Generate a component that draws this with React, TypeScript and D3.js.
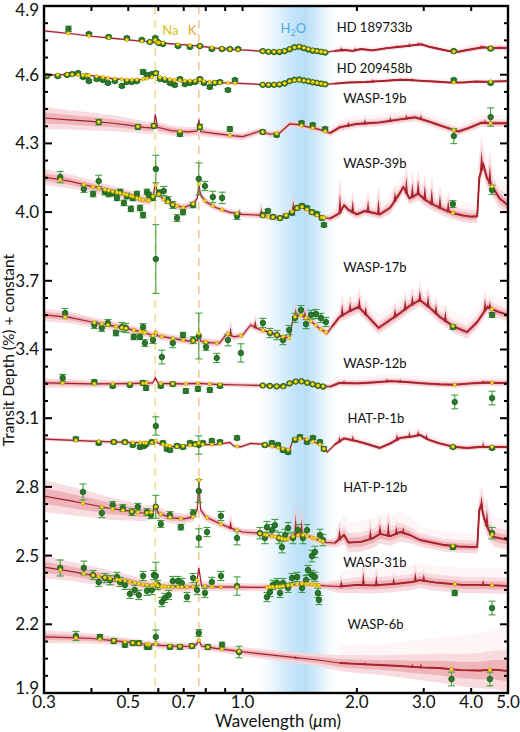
import React from "react";
import * as d3 from "d3";

// ---- axes ----
const yTickLabels = [1.9, 2.2, 2.5, 2.8, 3.1, 3.4, 3.7, 4.0, 4.3, 4.6, 4.9];
const xTickValues = [0.3, 0.4, 0.5, 0.6, 0.7, 0.8, 0.9, 1.0, 2.0, 3.0, 4.0, 5.0];
const xTickLabels = ["0.3", "0.5", "0.7", "1.0", "2.0", "3.0", "4.0", "5.0"];
const naLine = 0.589;
const kLine = 0.767;
const waterBand = [1.05, 1.8];
const irStart = 1.68;

// model rows: [wavelength um, depth %, 1 sigma]
// data rows: [wavelength um, depth %, error]
// spike rows: [wavelength um, peak depth %]
const hd189733Model = [[0.30,4.791,.004],[0.35,4.780,.004],[0.40,4.768,.004],[0.45,4.760,.004],[0.50,4.752,.004],[0.55,4.745,.004],[0.585,4.742,.004],[0.589,4.752,.004],[0.595,4.741,.004],[0.65,4.735,.004],[0.72,4.729,.004],[0.762,4.726,.004],[0.767,4.733,.004],[0.772,4.725,.004],[0.85,4.716,.004],[0.95,4.710,.004],[1.05,4.706,.004],[1.12,4.703,.004],[1.2,4.700,.004],[1.28,4.702,.004],[1.34,4.714,.004],[1.40,4.724,.004],[1.46,4.716,.004],[1.55,4.705,.004],[1.65,4.698,.004],[1.75,4.704,.006],[1.85,4.708,.006],[1.95,4.704,.006],[2.05,4.712,.006],[2.2,4.706,.006],[2.4,4.716,.006],[2.6,4.722,.006],[2.8,4.728,.006],[2.95,4.733,.006],[3.1,4.722,.006],[3.3,4.712,.006],[3.5,4.703,.006],[3.7,4.700,.006],[3.9,4.708,.008],[4.1,4.714,.008],[4.3,4.720,.008],[4.5,4.716,.008],[4.75,4.718,.008],[5.0,4.716,.008]];
const hd189733Data = [[0.348,4.800,.012],[0.394,4.778,.006],[0.444,4.765,.005],[0.496,4.760,.005],[0.543,4.752,.005],[0.570,4.743,.005],[0.589,4.760,.006],[0.596,4.745,.005],[0.602,4.738,.005],[0.617,4.734,.005],[0.676,4.725,.005],[0.727,4.721,.005],[0.772,4.725,.005],[0.830,4.712,.005],[0.883,4.712,.005],[0.926,4.712,.005],[0.973,4.712,.005],[1.13,4.703,.004],[1.17,4.700,.004],[1.21,4.699,.004],[1.25,4.699,.004],[1.29,4.703,.004],[1.33,4.711,.004],[1.37,4.720,.004],[1.41,4.722,.004],[1.45,4.716,.004],[1.49,4.710,.004],[1.53,4.705,.004],[1.57,4.703,.004],[1.61,4.700,.004],[1.65,4.697,.004],[3.6,4.703,.006],[4.5,4.714,.006]];
const hd189733Spikes = [[1.82,4.720],[1.98,4.718],[2.55,4.730],[2.75,4.738],[2.9,4.742],[4.25,4.730]];

const hd209458Model = [[0.30,4.597,.004],[0.35,4.601,.004],[0.40,4.596,.004],[0.45,4.584,.004],[0.50,4.577,.004],[0.55,4.580,.004],[0.58,4.590,.004],[0.589,4.610,.004],[0.60,4.590,.004],[0.65,4.578,.004],[0.72,4.573,.004],[0.762,4.574,.004],[0.767,4.588,.004],[0.775,4.573,.004],[0.85,4.566,.004],[0.95,4.563,.004],[1.05,4.560,.004],[1.12,4.557,.004],[1.2,4.556,.004],[1.28,4.560,.004],[1.34,4.574,.004],[1.40,4.578,.004],[1.46,4.574,.004],[1.55,4.566,.004],[1.65,4.558,.004],[1.75,4.561,.005],[1.9,4.566,.005],[2.1,4.568,.005],[2.3,4.572,.005],[2.5,4.576,.005],[2.7,4.578,.005],[2.9,4.574,.005],[3.2,4.570,.005],[3.5,4.566,.005],[3.8,4.566,.005],[4.1,4.570,.005],[4.4,4.569,.005],[4.7,4.571,.005],[5.0,4.572,.005]];
const hd209458Data = [[0.305,4.594,.006],[0.326,4.594,.006],[0.345,4.599,.006],[0.356,4.603,.006],[0.369,4.607,.006],[0.380,4.590,.006],[0.389,4.594,.006],[0.394,4.572,.006],[0.413,4.581,.006],[0.429,4.577,.006],[0.442,4.564,.006],[0.461,4.572,.006],[0.481,4.551,.006],[0.496,4.568,.006],[0.511,4.568,.006],[0.527,4.572,.006],[0.547,4.612,.01],[0.560,4.599,.006],[0.577,4.603,.006],[0.591,4.607,.006],[0.606,4.581,.006],[0.624,4.577,.006],[0.644,4.564,.006],[0.663,4.555,.006],[0.684,4.581,.006],[0.705,4.559,.006],[0.727,4.564,.006],[0.750,4.568,.006],[0.772,4.581,.006],[0.791,4.564,.006],[0.820,4.546,.006],[0.845,4.564,.006],[0.872,4.568,.006],[0.915,4.533,.006],[0.955,4.577,.006],[1.13,4.556,.003],[1.17,4.555,.003],[1.21,4.556,.003],[1.25,4.557,.003],[1.29,4.562,.003],[1.33,4.572,.003],[1.37,4.578,.003],[1.41,4.579,.003],[1.45,4.575,.003],[1.49,4.571,.003],[1.53,4.567,.003],[1.57,4.564,.003],[1.61,4.561,.003],[1.65,4.558,.003],[3.6,4.577,.006],[4.5,4.564,.006]];
const hd209458Spikes = [[2.2,4.580],[2.6,4.586],[2.8,4.584]];

const wasp19Model = [[0.30,4.411,.035],[0.35,4.403,.03],[0.40,4.396,.028],[0.45,4.389,.025],[0.50,4.380,.022],[0.55,4.370,.02],[0.583,4.367,.018],[0.589,4.426,.018],[0.597,4.370,.018],[0.65,4.356,.016],[0.72,4.350,.015],[0.76,4.354,.015],[0.767,4.404,.015],[0.775,4.352,.015],[0.85,4.343,.013],[0.95,4.333,.012],[1.0,4.330,.012],[1.05,4.340,.012],[1.11,4.354,.01],[1.18,4.340,.01],[1.25,4.345,.01],[1.33,4.385,.01],[1.40,4.382,.01],[1.5,4.370,.01],[1.6,4.360,.01],[1.7,4.345,.01],[1.8,4.370,.012],[2.0,4.385,.012],[2.3,4.392,.012],[2.6,4.405,.012],[2.85,4.414,.012],[3.1,4.395,.012],[3.4,4.372,.012],[3.7,4.352,.012],[3.95,4.368,.012],[4.25,4.390,.012],[4.6,4.388,.012],[5.0,4.388,.012]];
const wasp19Data = [[0.418,4.393,.012],[0.530,4.372,.01],[0.584,4.376,.01],[0.684,4.341,.01],[0.772,4.372,.012],[0.926,4.363,.01],[1.13,4.350,.008],[1.23,4.337,.008],[1.43,4.389,.008],[1.53,4.380,.008],[1.65,4.363,.008],[3.6,4.332,.033],[4.5,4.415,.04]];
const wasp19Spikes = [[1.9,4.395],[2.1,4.405],[2.45,4.415],[2.7,4.425],[2.95,4.425],[4.35,4.405]];

const wasp39Model = [[0.30,4.153,.025],[0.35,4.135,.022],[0.40,4.112,.02],[0.45,4.092,.018],[0.50,4.075,.016],[0.54,4.055,.015],[0.57,4.050,.014],[0.582,4.070,.014],[0.589,4.127,.014],[0.597,4.085,.014],[0.62,4.055,.012],[0.66,4.030,.012],[0.70,4.020,.012],[0.74,4.035,.012],[0.760,4.060,.012],[0.767,4.123,.012],[0.775,4.075,.012],[0.80,4.045,.012],[0.85,4.020,.01],[0.92,4.000,.01],[1.0,3.990,.01],[1.1,3.987,.01],[1.2,3.978,.01],[1.26,3.974,.01],[1.33,3.995,.01],[1.42,4.027,.01],[1.5,4.005,.01],[1.6,3.978,.01],[1.7,3.972,.012],[1.8,3.995,.015],[1.85,4.030,.015],[1.9,4.010,.015],[2.0,3.990,.015],[2.1,4.005,.015],[2.3,3.990,.015],[2.45,4.020,.02],[2.6,4.085,.02],[2.65,4.110,.02],[2.75,4.060,.02],[2.9,4.080,.02],[3.05,4.050,.02],[3.2,4.030,.02],[3.4,4.010,.02],[3.6,3.995,.02],[3.8,3.985,.02],[4.0,3.980,.02],[4.15,3.982,.02],[4.2,4.150,.03],[4.3,4.210,.03],[4.4,4.150,.03],[4.55,4.110,.03],[4.75,4.060,.03],[5.0,4.030,.03]];
const wasp39Data = [[0.331,4.153,.025],[0.382,4.101,.015],[0.404,4.079,.012],[0.418,4.136,.025],[0.434,4.088,.013],[0.444,4.079,.012],[0.455,4.083,.012],[0.467,4.062,.012],[0.476,4.088,.012],[0.487,4.040,.012],[0.496,4.070,.012],[0.508,4.014,.012],[0.514,4.062,.012],[0.527,4.079,.012],[0.537,4.018,.012],[0.547,3.987,.012],[0.560,4.088,.012],[0.567,4.075,.012],[0.581,4.062,.012],[0.591,4.188,.06],[0.602,4.083,.015],[0.620,4.092,.02],[0.636,4.053,.015],[0.655,4.031,.015],[0.672,3.974,.015],[0.697,4.000,.012],[0.741,4.031,.012],[0.767,4.145,.07],[0.796,4.114,.02],[0.835,4.066,.025],[0.883,4.062,.025],[0.967,3.983,.015],[1.131,3.987,.008],[1.166,4.005,.008],[1.202,3.979,.008],[1.255,3.974,.008],[1.302,3.983,.008],[1.350,3.996,.008],[1.392,4.018,.008],[1.434,4.027,.008],[1.478,4.018,.008],[1.523,4.000,.008],[1.570,3.992,.008],[1.618,3.974,.008],[1.638,3.944,.008],[3.58,4.035,.015],[4.54,4.097,.02]];
const wasp39Spikes = [[0.98,4.01],[1.12,4.02],[1.36,4.05],[1.805,4.083],[1.95,4.053],[2.14,4.053],[2.28,4.062],[2.52,4.09],[2.7,4.153],[2.8,4.127],[2.9,4.140],[3.02,4.118],[3.15,4.105],[3.31,4.075],[3.48,4.053],[4.26,4.27],[4.48,4.206]];

const wasp17Model = [[0.30,3.551,.02],[0.35,3.540,.018],[0.40,3.520,.016],[0.45,3.505,.015],[0.50,3.490,.014],[0.55,3.475,.013],[0.583,3.460,.012],[0.589,3.478,.012],[0.597,3.460,.012],[0.65,3.450,.012],[0.72,3.437,.012],[0.76,3.440,.012],[0.767,3.470,.012],[0.775,3.437,.012],[0.82,3.430,.012],[0.87,3.428,.012],[0.91,3.470,.012],[0.95,3.455,.012],[1.0,3.462,.012],[1.05,3.507,.012],[1.1,3.490,.012],[1.18,3.475,.012],[1.26,3.457,.012],[1.33,3.450,.012],[1.36,3.540,.012],[1.42,3.551,.012],[1.5,3.530,.012],[1.6,3.490,.012],[1.67,3.472,.012],[1.72,3.500,.015],[1.8,3.542,.015],[1.9,3.565,.02],[2.02,3.586,.02],[2.15,3.540,.02],[2.28,3.494,.02],[2.45,3.530,.02],[2.6,3.559,.02],[2.75,3.590,.02],[2.93,3.616,.02],[3.1,3.585,.02],[3.31,3.542,.02],[3.6,3.500,.02],[3.9,3.476,.02],[4.15,3.520,.02],[4.41,3.586,.02],[4.7,3.565,.02],[5.0,3.551,.02]];
const wasp17Data = [[0.341,3.559,.02],[0.407,3.507,.015],[0.426,3.494,.015],[0.442,3.516,.015],[0.464,3.472,.012],[0.481,3.498,.02],[0.493,3.494,.02],[0.517,3.455,.012],[0.537,3.455,.012],[0.547,3.498,.015],[0.553,3.428,.015],[0.581,3.441,.015],[0.591,3.795,.15],[0.613,3.367,.03],[0.655,3.428,.02],[0.697,3.463,.012],[0.741,3.441,.015],[0.767,3.459,.1],[0.801,3.411,.015],[0.855,3.363,.02],[0.915,3.441,.025],[0.990,3.385,.04],[1.131,3.516,.02],[1.181,3.472,.02],[1.232,3.463,.02],[1.278,3.441,.02],[1.326,3.485,.02],[1.375,3.538,.02],[1.425,3.572,.02],[1.469,3.511,.02],[1.514,3.551,.02],[1.560,3.555,.02],[1.608,3.538,.02],[1.658,3.520,.02],[3.58,3.498,.01],[4.54,3.551,.01]];
const wasp17Spikes = [[0.93,3.50],[1.08,3.53],[1.38,3.58],[1.46,3.57],[1.83,3.60],[1.92,3.61],[2.03,3.63],[2.11,3.59],[2.52,3.58],[2.68,3.62],[2.8,3.64],[2.93,3.66],[3.08,3.64],[3.23,3.60],[3.42,3.57],[4.35,3.62],[4.48,3.61]];

const wasp12Model = [[0.30,3.254,.015],[0.4,3.250,.012],[0.5,3.251,.01],[0.58,3.254,.01],[0.589,3.276,.01],[0.60,3.252,.01],[0.7,3.250,.008],[0.767,3.252,.008],[0.85,3.248,.008],[1.0,3.245,.008],[1.11,3.243,.008],[1.2,3.240,.008],[1.28,3.238,.008],[1.35,3.258,.008],[1.42,3.262,.008],[1.52,3.250,.008],[1.6,3.240,.008],[1.7,3.238,.008],[1.8,3.254,.01],[2.0,3.252,.01],[2.2,3.256,.01],[2.45,3.262,.01],[2.7,3.258,.01],[3.0,3.252,.01],[3.3,3.248,.01],[3.6,3.246,.01],[4.0,3.252,.01],[4.4,3.256,.01],[4.7,3.254,.01],[5.0,3.254,.01]];
const wasp12Data = [[0.336,3.276,.015],[0.407,3.258,.01],[0.455,3.241,.008],[0.505,3.245,.008],[0.547,3.254,.01],[0.557,3.232,.01],[0.609,3.241,.008],[0.655,3.249,.008],[0.709,3.219,.01],[0.763,3.228,.01],[0.820,3.223,.01],[0.872,3.241,.008],[1.13,3.243,.004],[1.18,3.241,.004],[1.23,3.239,.004],[1.28,3.240,.004],[1.33,3.252,.004],[1.38,3.260,.004],[1.43,3.261,.004],[1.48,3.255,.004],[1.53,3.248,.004],[1.58,3.242,.004],[1.63,3.238,.004],[3.62,3.171,.03],[4.54,3.188,.03]];
const wasp12Spikes = [[1.85,3.266],[2.4,3.272],[2.6,3.270],[4.3,3.266]];

const hatp1Model = [[0.30,3.009,.006],[0.4,3.000,.006],[0.5,2.994,.006],[0.58,2.992,.006],[0.589,3.005,.006],[0.60,2.990,.006],[0.66,2.975,.006],[0.76,2.985,.006],[0.767,2.992,.006],[0.78,2.985,.006],[0.85,2.985,.006],[0.926,2.994,.006],[0.95,2.978,.006],[0.99,2.975,.006],[1.05,2.990,.006],[1.12,2.987,.006],[1.25,2.970,.006],[1.33,2.961,.006],[1.36,3.009,.006],[1.46,3.012,.006],[1.6,2.985,.006],[1.67,2.952,.006],[1.75,2.985,.008],[1.85,3.012,.008],[2.0,3.0,.008],[2.15,2.985,.008],[2.3,2.970,.008],[2.45,2.990,.008],[2.6,3.014,.008],[2.8,3.020,.008],[2.93,3.027,.008],[3.1,3.005,.008],[3.3,2.990,.008],[3.6,2.975,.008],[3.9,2.970,.008],[4.2,2.974,.008],[4.6,2.975,.008],[5.0,2.974,.008]];
const hatp1Data = [[0.364,3.009,.008],[0.418,2.992,.008],[0.458,2.996,.008],[0.490,2.996,.008],[0.514,2.983,.008],[0.537,2.974,.008],[0.550,2.979,.008],[0.557,2.987,.008],[0.577,2.996,.008],[0.591,3.066,.04],[0.617,2.992,.008],[0.632,2.966,.008],[0.644,2.961,.008],[0.672,2.979,.008],[0.697,2.974,.008],[0.727,2.992,.008],[0.750,2.987,.008],[0.767,2.983,.04],[0.786,2.992,.008],[0.830,3.001,.008],[0.872,2.996,.008],[0.967,3.014,.008],[1.145,2.983,.008],[1.195,2.992,.008],[1.240,2.983,.008],[1.278,2.961,.008],[1.318,2.952,.008],[1.375,3.005,.008],[1.416,3.018,.008],[1.478,2.996,.008],[1.532,3.014,.008],[1.599,2.996,.008],[1.638,2.966,.008],[3.58,2.974,.006],[4.54,2.970,.006]];
const hatp1Spikes = [[1.8,3.02],[1.95,3.025],[2.55,3.03],[2.75,3.04],[2.9,3.045],[3.05,3.03],[4.3,2.995]];

const hatp12Model = [[0.30,2.760,.05],[0.35,2.740,.045],[0.40,2.722,.04],[0.45,2.705,.035],[0.50,2.695,.03],[0.55,2.685,.025],[0.58,2.690,.022],[0.589,2.720,.02],[0.60,2.685,.02],[0.65,2.665,.018],[0.70,2.660,.016],[0.74,2.668,.015],[0.76,2.700,.015],[0.767,2.830,.015],[0.775,2.700,.015],[0.80,2.668,.014],[0.87,2.640,.012],[0.93,2.620,.012],[1.0,2.603,.012],[1.1,2.598,.012],[1.2,2.585,.012],[1.3,2.570,.012],[1.38,2.588,.012],[1.45,2.590,.012],[1.55,2.575,.012],[1.65,2.558,.012],[1.75,2.555,.015],[1.85,2.590,.03],[1.9,2.557,.03],[2.05,2.560,.03],[2.2,2.575,.03],[2.3,2.595,.03],[2.45,2.585,.03],[2.6,2.603,.03],[2.76,2.590,.025],[2.93,2.568,.02],[3.2,2.555,.02],[3.4,2.546,.02],[3.7,2.540,.02],[4.15,2.537,.02],[4.2,2.700,.03],[4.25,2.720,.03],[4.33,2.660,.03],[4.45,2.610,.03],[4.6,2.581,.03],[5.0,2.568,.03]];
const hatp12Data = [[0.380,2.778,.035],[0.426,2.686,.02],[0.455,2.721,.015],[0.484,2.708,.015],[0.511,2.690,.015],[0.530,2.713,.015],[0.560,2.690,.015],[0.574,2.677,.015],[0.591,2.713,.05],[0.609,2.638,.015],[0.644,2.677,.015],[0.688,2.624,.012],[0.741,2.686,.015],[0.767,2.782,.05],[0.767,2.577,.04],[0.806,2.603,.02],[0.877,2.673,.02],[0.967,2.577,.03],[1.111,2.598,.025],[1.145,2.577,.025],[1.159,2.624,.025],[1.195,2.611,.025],[1.217,2.633,.025],[1.247,2.577,.025],[1.270,2.537,.025],[1.294,2.590,.025],[1.318,2.620,.025],[1.358,2.577,.025],[1.400,2.611,.025],[1.442,2.577,.025],[1.478,2.611,.025],[1.523,2.498,.025],[1.551,2.516,.025],[1.599,2.590,.025],[1.628,2.568,.025],[3.58,2.537,.01],[4.54,2.598,.025]];
const hatp12Spikes = [[0.93,2.655],[1.38,2.680],[1.43,2.660],[1.8,2.62],[2.17,2.62],[2.3,2.64],[2.42,2.65],[2.54,2.63],[2.65,2.625],[4.26,2.76],[4.4,2.70]];

const wasp31Model = [[0.30,2.450,.035],[0.35,2.432,.03],[0.40,2.415,.028],[0.45,2.400,.025],[0.50,2.388,.02],[0.54,2.375,.018],[0.58,2.368,.016],[0.589,2.380,.016],[0.60,2.366,.016],[0.65,2.363,.015],[0.72,2.363,.015],[0.755,2.366,.015],[0.767,2.445,.015],[0.78,2.368,.015],[0.85,2.363,.013],[1.0,2.362,.012],[1.11,2.361,.012],[1.25,2.365,.012],[1.35,2.372,.012],[1.45,2.378,.012],[1.55,2.372,.012],[1.65,2.368,.012],[1.8,2.365,.02],[2.0,2.372,.025],[2.2,2.370,.025],[2.5,2.376,.025],[2.8,2.385,.025],[2.93,2.393,.025],[3.2,2.383,.025],[3.5,2.377,.025],[3.8,2.372,.025],[4.2,2.372,.025],[4.6,2.370,.025],[5.0,2.368,.025]];
const wasp31Data = [[0.331,2.446,.035],[0.382,2.446,.03],[0.404,2.415,.02],[0.418,2.385,.02],[0.434,2.402,.02],[0.448,2.393,.02],[0.467,2.407,.02],[0.476,2.385,.02],[0.490,2.372,.02],[0.505,2.333,.02],[0.520,2.350,.02],[0.533,2.328,.02],[0.547,2.411,.02],[0.560,2.346,.02],[0.577,2.350,.02],[0.584,2.415,.02],[0.591,2.411,.06],[0.598,2.372,.02],[0.613,2.297,.02],[0.624,2.315,.02],[0.639,2.328,.02],[0.655,2.389,.02],[0.676,2.389,.02],[0.692,2.380,.02],[0.714,2.319,.02],[0.741,2.402,.02],[0.759,2.350,.02],[0.796,2.337,.02],[0.830,2.385,.02],[0.877,2.411,.02],[0.967,2.367,.04],[1.159,2.319,.02],[1.181,2.341,.02],[1.202,2.372,.02],[1.232,2.380,.02],[1.255,2.337,.02],[1.278,2.380,.02],[1.318,2.359,.02],[1.350,2.402,.02],[1.392,2.407,.02],[1.434,2.359,.02],[1.469,2.393,.02],[1.487,2.437,.02],[1.523,2.415,.02],[1.551,2.407,.02],[1.579,2.337,.02],[1.589,2.306,.02],[3.62,2.337,.012],[4.54,2.271,.03]];
const wasp31Spikes = [[1.82,2.395],[2.08,2.428],[2.25,2.415],[2.5,2.405],[2.85,2.428],[3.0,2.42],[4.3,2.395]];

const wasp6Model = [[0.30,2.145,.02],[0.35,2.142,.018],[0.40,2.138,.016],[0.45,2.130,.014],[0.50,2.122,.013],[0.55,2.113,.012],[0.583,2.110,.012],[0.589,2.118,.012],[0.597,2.109,.012],[0.65,2.105,.012],[0.72,2.103,.012],[0.755,2.110,.012],[0.767,2.130,.012],[0.78,2.105,.012],[0.85,2.095,.012],[0.95,2.085,.013],[1.0,2.080,.014],[1.2,2.065,.016],[1.4,2.053,.018],[1.6,2.043,.02],[1.8,2.031,.025],[2.0,2.027,.028],[2.3,2.022,.03],[2.6,2.018,.035],[2.95,2.012,.04],[3.3,2.009,.045],[3.75,2.000,.05],[4.2,1.998,.055],[4.6,2.002,.06],[5.0,1.996,.065]];
const wasp6Data = [[0.364,2.149,.02],[0.421,2.145,.01],[0.458,2.127,.01],[0.490,2.110,.01],[0.514,2.118,.01],[0.533,2.118,.01],[0.560,2.101,.01],[0.567,2.101,.01],[0.591,2.145,.03],[0.644,2.101,.01],[0.684,2.101,.01],[0.736,2.105,.01],[0.767,2.162,.015],[0.810,2.101,.01],[0.883,2.110,.012],[0.979,2.079,.025],[3.55,1.961,.03],[4.48,1.961,.03]];
const wasp6Spikes = [[1.38,2.062],[2.1,2.035],[2.8,2.028],[2.95,2.03]];

const planetNames = ["HD 189733b", "HD 209458b", "WASP-19b", "WASP-39b", "WASP-17b", "WASP-12b", "HAT-P-1b", "HAT-P-12b", "WASP-31b", "WASP-6b"];
// label anchors [wavelength, depth]
const labelAt = [[1.77,4.808],[1.77,4.629],[1.84,4.498],[1.84,4.214],[1.84,3.760],[1.84,3.341],[1.89,3.097],[1.84,2.799],[1.84,2.472],[1.89,2.201]];
const models = [hd189733Model, hd209458Model, wasp19Model, wasp39Model, wasp17Model, wasp12Model, hatp1Model, hatp12Model, wasp31Model, wasp6Model];
const datasets = [hd189733Data, hd209458Data, wasp19Data, wasp39Data, wasp17Data, wasp12Data, hatp1Data, hatp12Data, wasp31Data, wasp6Data];
const spikes = [hd189733Spikes, hd209458Spikes, wasp19Spikes, wasp39Spikes, wasp17Spikes, wasp12Spikes, hatp1Spikes, hatp12Spikes, wasp31Spikes, wasp6Spikes];

const W = 520;
const H = 732;
const left = 44, right = 508, top = 6, bottom = 693;
const font = "Lato, 'DejaVu Sans', sans-serif";

const xScale = d3.scaleLog().domain([0.3, 5]).range([left, right]);
const yScale = d3.scaleLinear().domain([1.9, 4.9]).range([bottom, top]);

// model value at a wavelength (yellow binned points, spike bases)
function modelAt(model, wl) {
  const i = d3.bisector(d => d[0]).left(model, wl);
  if (i <= 0) return model[0][1];
  if (i >= model.length) return model[model.length - 1][1];
  const a = model[i - 1], b = model[i];
  const t = (Math.log(wl) - Math.log(a[0])) / (Math.log(b[0]) - Math.log(a[0]));
  return a[1] + t * (b[1] - a[1]);
}

const line = d3.line().x(d => xScale(d[0])).y(d => yScale(d[1]));
const band = (lo, hi) => d3.area().x(d => xScale(d[0])).y0(d => yScale(d[1] - lo * d[2])).y1(d => yScale(d[1] + hi * d[2]));

// narrow peak shape from the model line up to a spike top
function peak(model, s, half, stretch) {
  const x = xScale(s[0]);
  const base = modelAt(model, s[0]);
  const yb = yScale(base) + 1;
  const yt = yScale(base + (s[1] - base) * stretch);
  return `M${x - half},${yb}L${x},${yt}L${x + half},${yb}Z`;
}

export default function App() {
  const yMinor = d3.range(1.9, 4.9001, 0.075);
  const bx0 = xScale(waterBand[0]), bx1 = xScale(waterBand[1]);

  return (
    <svg width={W} height={H} style={{ position: "absolute", left: 0, top: 0, background: "#fff" }} fontFamily={font}>
      <defs>
        <linearGradient id="h2o" gradientUnits="userSpaceOnUse" x1={bx0} x2={bx1} y1={0} y2={0}>
          <stop offset="0" stopColor="#ffffff" stopOpacity="0" />
          <stop offset="0.3" stopColor="#e2f2fc" stopOpacity="1" />
          <stop offset="0.52" stopColor="#bfe2f8" />
          <stop offset="0.62" stopColor="#b9dff7" />
          <stop offset="0.8" stopColor="#e0f1fc" />
          <stop offset="1" stopColor="#ffffff" stopOpacity="0" />
        </linearGradient>
        <clipPath id="plot"><rect x={left} y={top} width={right - left} height={bottom - top} /></clipPath>
      </defs>

      <g clipPath="url(#plot)">
        <rect x={bx0} y={top} width={bx1 - bx0} height={bottom - top} fill="url(#h2o)" />
        <line x1={xScale(naLine)} x2={xScale(naLine)} y1={top} y2={bottom} stroke="#ece08e" strokeWidth={1.6} strokeDasharray="8,6" />
        <line x1={xScale(kLine)} x2={xScale(kLine)} y1={top} y2={bottom} stroke="#f5c996" strokeWidth={1.6} strokeDasharray="8,6" />

        {models.map((m, i) => {
          const ir = m.filter(d => d[0] >= irStart);
          return (
            <g key={"m" + i}>
              <path d={band(1.4, 3)(ir)} fill="#fcecee" opacity={0.55} />
              {spikes[i].map((s, j) => (
                <path key={"f" + j} d={peak(m, s, 4, 1.8)} fill="#f4c9cd" opacity={0.55} />
              ))}
              <path d={band(1.4, 1.4)(m)} fill="#f7d6d9" opacity={0.85} />
              <path d={band(0.7, 0.7)(m)} fill="#eba7ae" opacity={0.75} />
              <path d={line(m)} fill="none" stroke="#a3212b" strokeWidth={1.2} />
              <path d={line(ir)} fill="none" stroke="#a8232d" strokeWidth={1.9} strokeLinejoin="round" />
              {spikes[i].map((s, j) => (
                <path key={"s" + j} d={peak(m, s, 1.6, 1)} fill="#a8232d" />
              ))}
            </g>
          );
        })}

        {datasets.map((ds, i) => (
          <g key={"d" + i}>
            {ds.map((d, j) => {
              const x = xScale(d[0]);
              const y0 = yScale(d[1] - d[2]), y1 = yScale(d[1] + d[2]);
              return (
                <g key={j} stroke="#41a041" strokeWidth={1.1}>
                  <line x1={x} x2={x} y1={y0} y2={y1} />
                  <line x1={x - 3.5} x2={x + 3.5} y1={y0} y2={y0} />
                  <line x1={x - 3.5} x2={x + 3.5} y1={y1} y2={y1} />
                </g>
              );
            })}
            {ds.map((d, j) => (
              <circle key={"g" + j} cx={xScale(d[0])} cy={yScale(d[1])} r={2.8} fill="#2b7a2b" stroke="#185218" strokeWidth={0.7} />
            ))}
            {ds.map((d, j) => (
              <circle key={"y" + j} cx={xScale(d[0])} cy={yScale(modelAt(models[i], d[0]))} r={1.8} fill="#f3e01e" stroke="#b48400" strokeWidth={0.5} />
            ))}
          </g>
        ))}
      </g>

      {planetNames.map((n, i) => (
        <text key={n} x={xScale(labelAt[i][0])} y={yScale(labelAt[i][1])} dy="0.35em" fontSize={13} fill="#111">{n}</text>
      ))}

      <text x={xScale(naLine) + 7} y={35} fontSize={13} fill="#d6c21c">Na</text>
      <text x={xScale(kLine) - 11} y={35} fontSize={13} fill="#e3a832">K</text>
      <text x={xScale(1.36)} y={33} fontSize={13} fill="#4ea8e3" textAnchor="middle">
        H<tspan fontSize={9} dy={3}>2</tspan><tspan dy={-3}>O</tspan>
      </text>

      {/* frame and ticks */}
      <rect x={left} y={top} width={right - left} height={bottom - top} fill="none" stroke="#000" strokeWidth={2.4} />
      {yMinor.map((v, i) => {
        const major = i % 4 === 0;
        const len = major ? 8 : 4;
        return (
          <g key={"yt" + i} stroke="#000" strokeWidth={2}>
            <line x1={left} x2={left + len} y1={yScale(v)} y2={yScale(v)} />
            <line x1={right} x2={right - len} y1={yScale(v)} y2={yScale(v)} />
          </g>
        );
      })}
      {xTickValues.map((v) => (
        <g key={"xt" + v} stroke="#000" strokeWidth={2}>
          <line x1={xScale(v)} x2={xScale(v)} y1={bottom} y2={bottom - 5} />
          <line x1={xScale(v)} x2={xScale(v)} y1={top} y2={top + 5} />
        </g>
      ))}
      {yTickLabels.map((v) => (
        <text key={"yl" + v} x={left - 5} y={Math.min(Math.max(yScale(v), 10), bottom - 5)} dy="0.35em" textAnchor="end" fontSize={17} fill="#111">{v.toFixed(1)}</text>
      ))}
      {xTickLabels.map((s) => (
        <text key={"xl" + s} x={xScale(+s)} y={bottom + 15} textAnchor="middle" fontSize={17} fill="#111">{s}</text>
      ))}
      <text x={278} y={727} textAnchor="middle" fontSize={17} fill="#111">
        Wavelength (<tspan fontStyle="italic">μ</tspan>m)
      </text>
      <text transform="translate(14,350) rotate(-90)" textAnchor="middle" fontSize={15.5} fill="#111">
        Transit Depth (%) + constant
      </text>
    </svg>
  );
}
